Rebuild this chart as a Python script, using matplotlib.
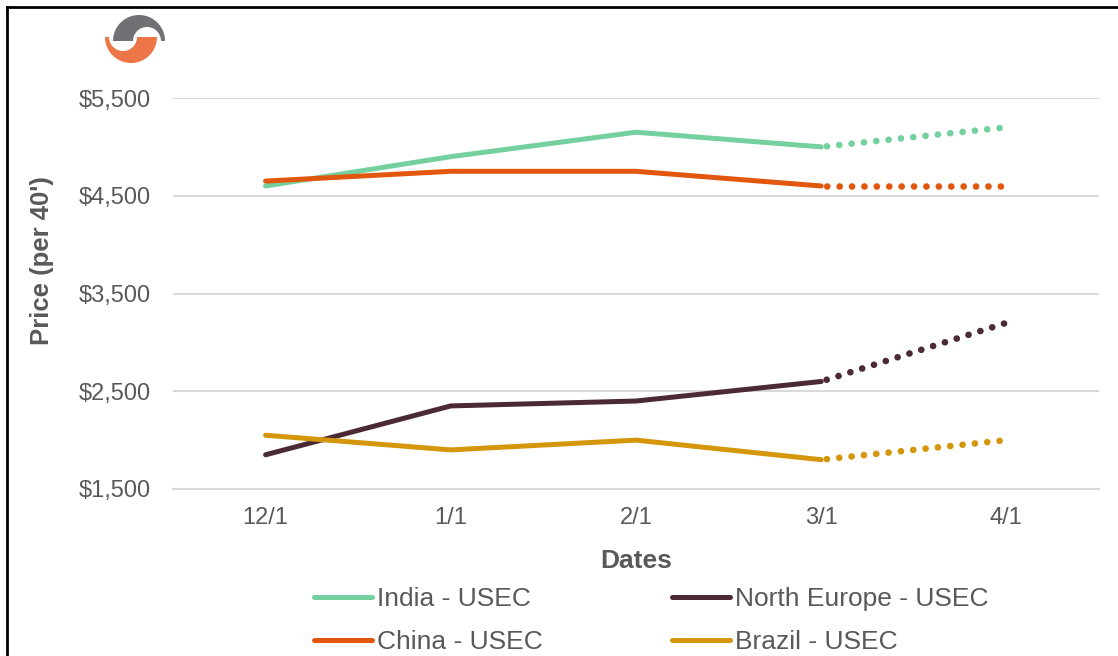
import numpy as np
import matplotlib
matplotlib.use("Agg")
import matplotlib.pyplot as plt
from matplotlib.patches import Polygon
from matplotlib.lines import Line2D

plt.rcParams['font.family'] = ['Liberation Sans', 'DejaVu Sans']

# data
dates = ["12/1", "1/1", "2/1", "3/1", "4/1"]
india = [4600, 4900, 5150, 5000, 5200]
china = [4650, 4750, 4750, 4600, 4600]
north_europe = [1850, 2350, 2400, 2600, 3200]
brazil = [2050, 1900, 2000, 1800, 2000]
# legend fills column by column
names = ["India - USEC", "China - USEC", "North Europe - USEC", "Brazil - USEC"]
yticks = [1500, 2500, 3500, 4500, 5500]

colors = {"India - USEC": "#75D09F", "North Europe - USEC": "#4B2A36",
          "China - USEC": "#E0570D", "Brazil - USEC": "#D4960A"}
series = {"India - USEC": india, "North Europe - USEC": north_europe,
          "China - USEC": china, "Brazil - USEC": brazil}

W, H = 1118, 656
fig = plt.figure(figsize=(W / 100, H / 100), dpi=100)
ax = fig.add_axes([173 / W, 1 - 489 / H, (1099 - 173) / W, (489 - 98) / H])

x = np.arange(len(dates))
lw = 3.6
for name in names:
    vals = series[name]
    ax.plot(x[:4], vals[:4], color=colors[name], lw=lw, solid_capstyle='round',
            solid_joinstyle='round', zorder=3)
    ax.plot(x[3:], vals[3:], color=colors[name], lw=4.8, dash_capstyle='round',
            linestyle=(1.0, (0.01, 1.85)), zorder=3)

ax.set_xlim(-0.5, 4.5)
ax.set_ylim(1500, 5500)
ax.set_yticks(yticks)
ax.set_yticklabels(["${:,}".format(v) for v in yticks])
ax.set_xticks(x)
ax.set_xticklabels(dates)
ax.grid(axis='y', color='#D9D9D9', lw=1.5)
ax.set_axisbelow(True)
for s in ['top', 'right', 'left']:
    ax.spines[s].set_visible(False)
ax.spines['bottom'].set_color('#D9D9D9')
ax.spines['bottom'].set_linewidth(1.5)
ax.tick_params(length=0, labelsize=17, colors='#595959')
ax.tick_params(axis='y', pad=16)
ax.tick_params(axis='x', pad=13)
ax.set_xlabel("Dates", fontsize=19, fontweight='bold', color='#595959', labelpad=14)
ax.set_ylabel("Price (per 40')", fontsize=18.5, fontweight='bold', color='#595959')
ax.yaxis.set_label_coords(-0.1285, 0.583)

handles = [Line2D([0], [0], color=colors[n], lw=lw, solid_capstyle='round') for n in names]
fig.legend(handles, names, ncol=2, loc='upper left', bbox_to_anchor=(290 / W, 1 - 563 / H),
           frameon=False, fontsize=19, handlelength=2.2, handletextpad=0.2,
           columnspacing=4.9, labelspacing=0.72, labelcolor='#595959')

# frame lines (top and left only)
fig.add_artist(Line2D([7 / W, 1], [1 - 7 / H, 1 - 7 / H], color='black', lw=2))
fig.add_artist(Line2D([7 / W, 7 / W], [0, 1 - 7 / H], color='black', lw=2))


# logo: two tapered half rings
def half_ring(c_out, r_out, c_in, r_in, t0, t1):
    t = np.linspace(t0, t1, 60)
    outer = np.c_[c_out[0] + r_out * np.cos(t), c_out[1] - r_out * np.sin(t)]
    inner = np.c_[c_in[0] + r_in * np.cos(t[::-1]), c_in[1] - r_in * np.sin(t[::-1])]
    pts = np.vstack([outer, inner])
    pts[:, 0] /= W
    pts[:, 1] = 1 - pts[:, 1] / H
    return pts


gray = half_ring((139, 41), 26, (147, 41), 14, 0, np.pi)
orange = half_ring((131, 37), 26, (123, 37), 14, np.pi, 2 * np.pi)
fig.add_artist(Polygon(gray, closed=True, color='#707075', lw=0))
fig.add_artist(Polygon(orange, closed=True, color='#EC7648', lw=0))

fig.savefig("out.png", dpi=100)
